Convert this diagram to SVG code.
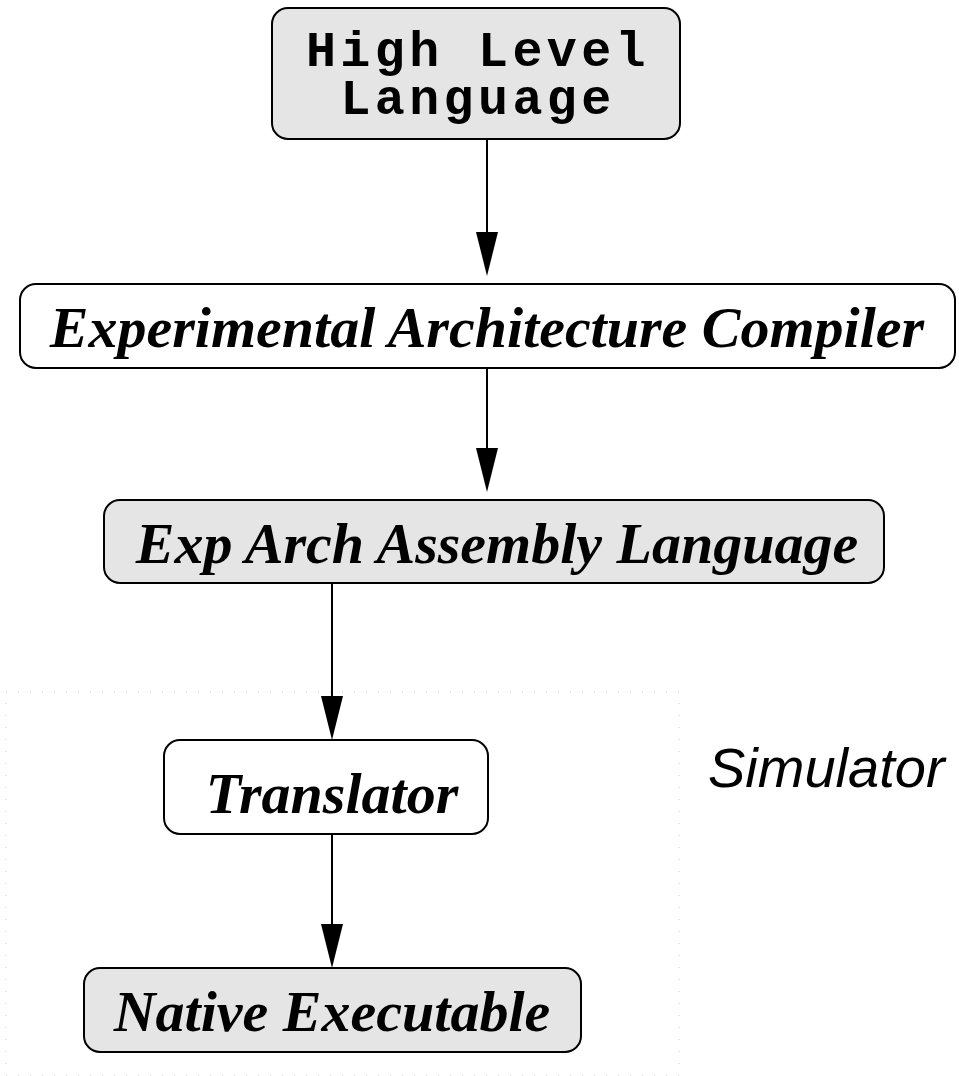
<svg xmlns="http://www.w3.org/2000/svg" width="959" height="1076" viewBox="0 0 959 1076">
<style>
.box{stroke:#000;stroke-width:2}
.g{fill:#e5e5e5}
.w{fill:#fff}
.t{font-family:"Liberation Serif",serif;font-weight:bold;font-style:italic;font-size:58px;text-anchor:middle;fill:#000}
.m{font-family:"Liberation Mono",monospace;font-weight:bold;font-size:50px;letter-spacing:4.4px;text-anchor:middle;fill:#000}
.edge{stroke:#000;stroke-width:2;fill:none}
.head{fill:#000}
</style>
<rect x="6" y="692" width="673" height="383" fill="none" stroke="#c8c8c8" stroke-width="1" stroke-dasharray="1,11"/>
<g id="connectors">
<line class="edge" x1="487" y1="139" x2="487" y2="233"/>
<path class="head" d="M476,232 L498,232 L487,276 Z"/>
<line class="edge" x1="487" y1="368" x2="487" y2="449"/>
<path class="head" d="M476,448 L498,448 L487,492 Z"/>
<line class="edge" x1="332" y1="583" x2="332" y2="697"/>
<path class="head" d="M321,696 L343,696 L332,740 Z"/>
<line class="edge" x1="332" y1="834" x2="332" y2="925"/>
<path class="head" d="M321,924 L343,924 L332,968 Z"/>
</g>
<g id="hll">
<rect class="box g" x="272" y="8" width="408" height="131" rx="16"/>
<text class="m" x="478" y="66">High Level</text>
<text class="m" x="478" y="114">Language</text>
</g>
<g id="eac">
<rect class="box w" x="20" y="284" width="935" height="84" rx="16"/>
<text class="t" x="487" y="347">Experimental Architecture Compiler</text>
</g>
<g id="eaal">
<rect class="box g" x="104" y="500" width="780" height="83" rx="16"/>
<text class="t" x="497" y="563">Exp Arch Assembly Language</text>
</g>
<g id="translator">
<rect class="box w" x="164" y="740" width="324" height="94" rx="16"/>
<text class="t" x="332" y="813">Translator</text>
</g>
<g id="native">
<rect class="box g" x="84" y="968" width="497" height="84" rx="16"/>
<text class="t" x="332" y="1031">Native Executable</text>
</g>
<g id="simulator">
<text x="708" y="787" font-family="Liberation Sans,sans-serif" font-style="italic" font-size="56" fill="#000">Simulator</text>
</g>
</svg>
